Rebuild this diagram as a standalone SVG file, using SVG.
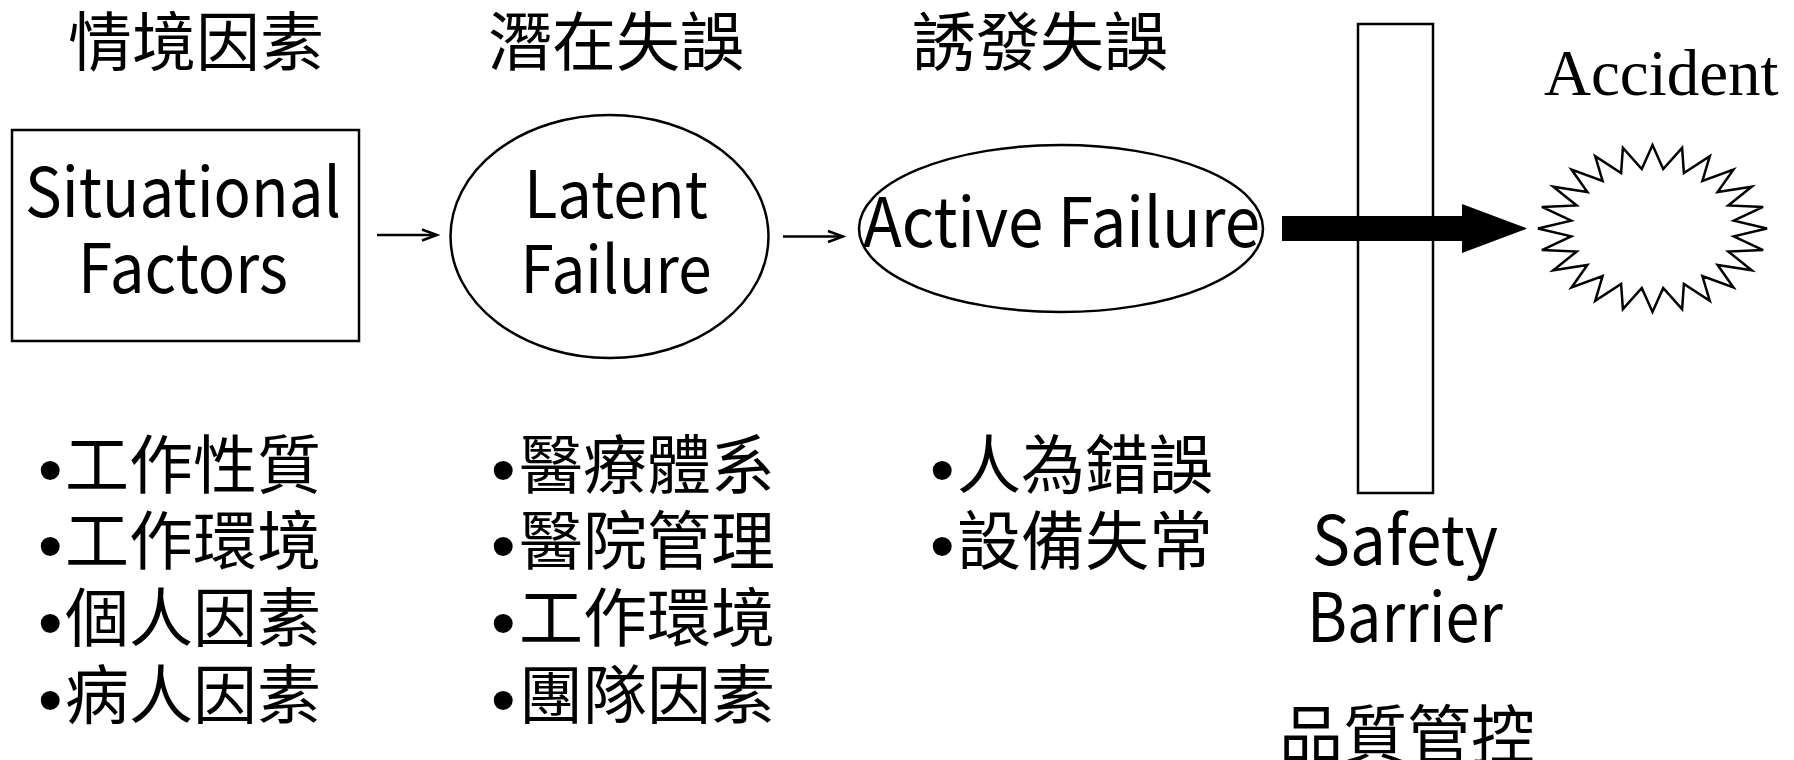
<svg xmlns="http://www.w3.org/2000/svg" width="1794" height="760" viewBox="0 0 1794 760">
<style>
.bg{fill:#ffffff}
.shape{fill:#ffffff;stroke:#000000;stroke-width:2.5}
.cjk{font-family:"Noto Sans CJK TC","Noto Sans CJK SC",sans-serif;font-size:64px;fill:#000000}
.lat{font-family:"Noto Sans CJK TC","Noto Sans",sans-serif;font-size:68px;fill:#000000;text-anchor:middle}
.serif{font-family:"Liberation Serif","Times New Roman",serif;font-size:65px;fill:#000000}
.bul{font-family:"Liberation Sans",Arial,sans-serif;font-size:70px;fill:#000000}
.thin{stroke:#000000;stroke-width:2.4;fill:none}
</style>
<rect class="bg" x="0" y="0" width="1794" height="760"/>

<g id="titles">
<text class="cjk" x="68" y="65">情境因素</text>
<text class="cjk" x="488" y="65">潛在失誤</text>
<text class="cjk" x="912" y="65">誘發失誤</text>
</g>

<g id="node-situational">
<rect class="shape" x="12" y="130" width="347" height="211"/>
<text class="lat" x="183" y="217" textLength="316" lengthAdjust="spacingAndGlyphs">Situational</text>
<text class="lat" x="183" y="293" textLength="210" lengthAdjust="spacingAndGlyphs">Factors</text>
</g>

<g id="node-latent">
<ellipse class="shape" cx="609.5" cy="236.5" rx="159" ry="121.5"/>
<text class="lat" x="616" y="218" style="font-size:65px" textLength="184" lengthAdjust="spacingAndGlyphs">Latent</text>
<text class="lat" x="616" y="293" style="font-size:65px" textLength="191" lengthAdjust="spacingAndGlyphs">Failure</text>
</g>

<g id="node-active">
<ellipse class="shape" cx="1061" cy="228.5" rx="202" ry="83.5"/>
<text class="lat" x="1061.5" y="247" textLength="397" lengthAdjust="spacingAndGlyphs">Active Failure</text>
</g>

<g id="node-barrier">
<rect class="shape" x="1358" y="24" width="75" height="469"/>
<text class="lat" x="1405" y="565" textLength="186" lengthAdjust="spacingAndGlyphs">Safety</text>
<text class="lat" x="1405" y="642" textLength="196" lengthAdjust="spacingAndGlyphs">Barrier</text>
<text class="cjk" x="1279" y="758">品質管控</text>
</g>

<g id="node-accident">
<text class="serif" x="1544" y="95">Accident</text>
<polygon class="shape" points="1652.5,145 1663.2,169 1682.1,147.8 1683.9,173.1 1709.8,156.2 1702.4,180.9 1733.5,169.5 1717.6,192 1751.7,186.7 1728.3,205.5 1763.1,206.9 1733.8,220.7 1767,228.5 1733.8,236.3 1763.1,250.1 1728.3,251.5 1751.7,270.3 1717.6,265 1733.5,287.5 1702.4,276.1 1709.8,300.8 1683.9,283.9 1682.1,309.2 1663.2,288 1652.5,312 1641.8,288 1622.9,309.2 1621.1,283.9 1595.2,300.8 1602.6,276.1 1571.5,287.5 1587.4,265 1553.3,270.3 1576.7,251.5 1541.9,250.1 1571.2,236.3 1538,228.5 1571.2,220.7 1541.9,206.9 1576.7,205.5 1553.3,186.7 1587.4,192 1571.5,169.5 1602.6,180.9 1595.2,156.2 1621.1,173.1 1622.9,147.8 1641.8,169"/>
</g>

<g id="connectors">
<line class="thin" x1="377" y1="235" x2="436" y2="235"/>
<path class="thin" d="M422,229.5 L437,235 L422,240.5"/>
<line class="thin" x1="783" y1="236.5" x2="842" y2="236.5"/>
<path class="thin" d="M828,231 L843,236.5 L828,242"/>
<polygon fill="#000000" points="1282,216 1462,216 1462,204 1527,228.5 1462,253 1462,241 1282,241"/>
</g>

<g id="list-situational">
<text class="bul" x="38" y="494">•</text><text class="cjk" x="65" y="488">工作性質</text>
<text class="bul" x="38" y="570">•</text><text class="cjk" x="65" y="564">工作環境</text>
<text class="bul" x="38" y="647">•</text><text class="cjk" x="65" y="641">個人因素</text>
<text class="bul" x="38" y="724">•</text><text class="cjk" x="65" y="718">病人因素</text>
</g>
<g id="list-latent">
<text class="bul" x="491" y="494">•</text><text class="cjk" x="519" y="488">醫療體系</text>
<text class="bul" x="491" y="570">•</text><text class="cjk" x="519" y="564">醫院管理</text>
<text class="bul" x="491" y="647">•</text><text class="cjk" x="519" y="641">工作環境</text>
<text class="bul" x="491" y="724">•</text><text class="cjk" x="519" y="718">團隊因素</text>
</g>
<g id="list-active">
<text class="bul" x="930" y="494">•</text><text class="cjk" x="957" y="488">人為錯誤</text>
<text class="bul" x="930" y="570">•</text><text class="cjk" x="957" y="564">設備失常</text>
</g>
</svg>
